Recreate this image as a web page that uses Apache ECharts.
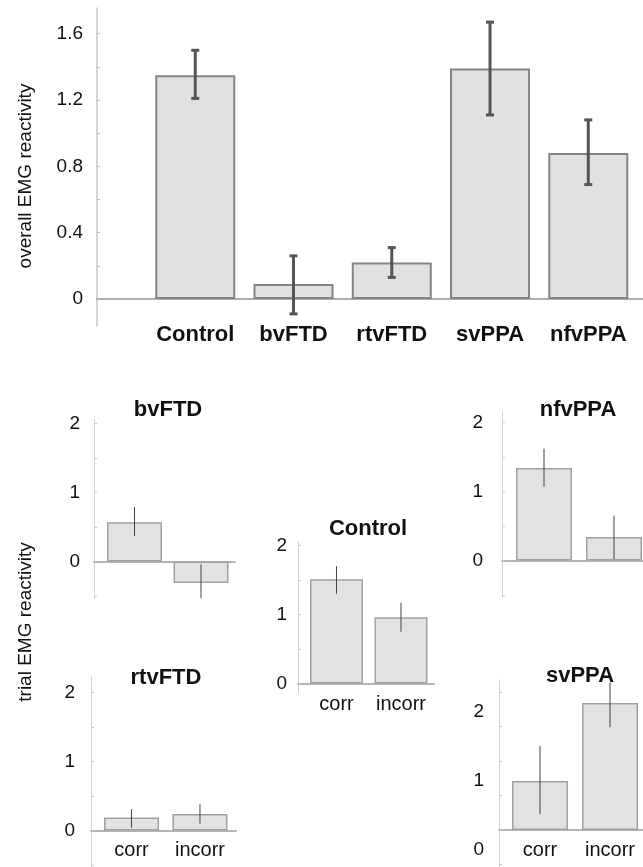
<!DOCTYPE html>
<html>
<head>
<meta charset="utf-8">
<script src="https://cdn.jsdelivr.net/npm/echarts@6/dist/echarts.min.js"></script>
<style>
html, body { margin: 0; padding: 0; background: #fff; }
#chart { width: 643px; height: 867px; }
</style>
</head>
<body>
<div id="chart"></div>
<script>
// overall EMG reactivity by group (mean, error bar low/high)
var groups = ['Control', 'bvFTD', 'rtvFTD', 'svPPA', 'nfvPPA']
var overallMean = [1.35, 0.09, 0.22, 1.39, 0.88]
var overallLow = [1.21, -0.09, 0.13, 1.11, 0.69]
var overallHigh = [1.50, 0.26, 0.31, 1.67, 1.08]
var overallTicks = ['0', '0.4', '0.8', '1.2', '1.6']

// trial EMG reactivity, correct vs incorrect trials
var conditions = ['corr', 'incorr']
var trialTicks = ['0', '1', '2']
var bvftdMean = [0.57, -0.31]
var bvftdLow = [0.37, -0.53]
var bvftdHigh = [0.79, -0.04]
var controlMean = [1.51, 0.96]
var controlLow = [1.30, 0.75]
var controlHigh = [1.70, 1.17]
var nfvppaMean = [1.34, 0.34]
var nfvppaLow = [1.07, 0.02]
var nfvppaHigh = [1.62, 0.65]
var rtvftdMean = [0.19, 0.24]
var rtvftdLow = [0.04, 0.10]
var rtvftdHigh = [0.31, 0.38]
var svppaMean = [0.71, 1.84]
var svppaLow = [0.23, 1.49]
var svppaHigh = [1.22, 2.14]

var font = 'Liberation Sans, Arial, sans-serif'
var textColor = '#111'

// layout of the small panels
var panels = [
    { name: 'bvFTD', mean: bvftdMean, low: bvftdLow, high: bvftdHigh,
      left: 94, top: 420, width: 141, height: 178,
      xMin: -0.609, xMax: 1.511, yMin: -0.529, yMax: 2.051,
      barWidth: 55, showCats: false, catMargin: 0, tickMargin: 14, tickShift: 0 },
    { name: 'Control', mean: controlMean, low: controlLow, high: controlHigh,
      left: 298, top: 542, width: 136, height: 151,
      xMin: -0.597, xMax: 1.512, yMin: -0.138, yMax: 2.051,
      barWidth: 53, showCats: true, catMargin: 1, tickMargin: 11, tickShift: 0 },
    { name: 'nfvPPA', mean: nfvppaMean, low: nfvppaLow, high: nfvppaHigh,
      left: 502, top: 412, width: 141, height: 185,
      xMin: -0.6, xMax: 1.414, yMin: -0.529, yMax: 2.152,
      barWidth: 56, showCats: false, catMargin: 0, tickMargin: 19, tickShift: 0 },
    { name: 'rtvFTD', mean: rtvftdMean, low: rtvftdLow, high: rtvftdHigh,
      left: 91, top: 677, width: 145, height: 190,
      xMin: -0.591, xMax: 1.526, yMin: -0.529, yMax: 2.225,
      barWidth: 55, showCats: true, catMargin: -27, tickMargin: 16, tickShift: 0 },
    { name: 'svPPA', mean: svppaMean, low: svppaLow, high: svppaHigh,
      left: 499, top: 680, width: 144, height: 187,
      xMin: -0.586, xMax: 1.471, yMin: -0.536, yMax: 2.174,
      barWidth: 56, showCats: true, catMargin: -27, tickMargin: 15, tickShift: 20 }
]

function errorBar(cap, width, color) {
    return function (params, api) {
        var x = api.value(0)
        var hi = api.coord([x, api.value(2)])
        var lo = api.coord([x, api.value(1)])
        var style = { stroke: color, lineWidth: width }
        var children = [{ type: 'line', shape: { x1: hi[0], y1: hi[1], x2: lo[0], y2: lo[1] }, style: style }]
        if (cap) {
            children.push({ type: 'line', shape: { x1: hi[0] - cap / 2, y1: hi[1], x2: hi[0] + cap / 2, y2: hi[1] }, style: style })
            children.push({ type: 'line', shape: { x1: lo[0] - cap / 2, y1: lo[1], x2: lo[0] + cap / 2, y2: lo[1] }, style: style })
        }
        return { type: 'group', children: children }
    }
}

function tickLabel(list) {
    return function (v) {
        var s = String(+(+v).toFixed(1))
        return list.indexOf(s) >= 0 ? s : ''
    }
}

var grid = [], xAxis = [], yAxis = [], series = []

// top chart
grid.push({ left: 97, top: 8, width: 546, height: 318, outerBoundsMode: 'none' })
xAxis.push({
    gridIndex: 0, type: 'value', min: 0, max: 5.557, minInterval: 1, maxInterval: 1,
    axisLine: { onZero: true, lineStyle: { color: '#adadad', width: 2 } },
    axisTick: { show: false }, splitLine: { show: false },
    axisLabel: {
        margin: -2, fontSize: 22, fontWeight: 'bold', fontFamily: font, color: textColor,
        showMinLabel: false, showMaxLabel: false,
        formatter: function (v) { return groups[Math.round(v) - 1] || '' }
    }
})
yAxis.push({
    gridIndex: 0, type: 'value', min: -0.163, max: 1.755, minInterval: 0.2, maxInterval: 0.2, splitNumber: 10,
    axisLine: { show: true, onZero: false, lineStyle: { color: '#c6c6c6', width: 1.5 } },
    axisTick: { show: true, inside: true, length: 3, lineStyle: { color: '#bcbcbc' } },
    splitLine: { show: false },
    axisLabel: {
        margin: 14, fontSize: 19, fontFamily: font, color: textColor,
        showMinLabel: false, showMaxLabel: false,
        formatter: tickLabel(overallTicks)
    }
})
series.push({
    type: 'bar', xAxisIndex: 0, yAxisIndex: 0, barWidth: 80, silent: true,
    data: overallMean.map(function (v, i) { return [i + 1, v] }),
    itemStyle: { color: '#e1e1e1', borderColor: '#858585', borderWidth: 2 }
})
series.push({
    type: 'custom', xAxisIndex: 0, yAxisIndex: 0, z: 5, silent: true,
    encode: { x: 0, y: [1, 2] },
    data: overallLow.map(function (v, i) { return [i + 1, v, overallHigh[i]] }),
    renderItem: errorBar(8, 3, '#555')
})

// small panels
panels.forEach(function (p, k) {
    var idx = k + 1
    grid.push({ left: p.left, top: p.top, width: p.width, height: p.height, outerBoundsMode: 'none' })
    xAxis.push({
        gridIndex: idx, type: 'value', min: p.xMin, max: p.xMax, minInterval: 1, maxInterval: 1,
        axisLine: { onZero: true, lineStyle: { color: '#b5b5b5', width: 2 } },
        axisTick: { show: false }, splitLine: { show: false },
        axisLabel: {
            show: p.showCats, margin: p.catMargin, fontSize: 20, fontFamily: font, color: textColor,
            showMinLabel: false, showMaxLabel: false,
            formatter: function (v) { return conditions[Math.round(v)] || '' }
        }
    })
    var tickLabelStyle = {
        margin: p.tickMargin, fontSize: 19, fontFamily: font, color: textColor,
        showMinLabel: false, showMaxLabel: false,
        formatter: tickLabel(trialTicks)
    }
    if (p.tickShift) {
        // labels of this panel sit a little below their ticks
        tickLabelStyle.verticalAlign = 'top'
        tickLabelStyle.lineHeight = p.tickShift * 2
    }
    yAxis.push({
        gridIndex: idx, type: 'value', min: p.yMin, max: p.yMax, minInterval: 0.5, maxInterval: 0.5, splitNumber: 5,
        axisLine: { show: true, onZero: false, lineStyle: { color: '#d2d2d2', width: 1 } },
        axisTick: { show: true, inside: true, length: 3, lineStyle: { color: '#c8c8c8' } },
        splitLine: { show: false },
        axisLabel: tickLabelStyle
    })
    series.push({
        type: 'bar', xAxisIndex: idx, yAxisIndex: idx, barWidth: p.barWidth, silent: true,
        data: p.mean.map(function (v, i) { return [i, v] }),
        itemStyle: { color: '#e2e2e2', borderColor: '#a2a2a2', borderWidth: 1.5 }
    })
    series.push({
        type: 'custom', xAxisIndex: idx, yAxisIndex: idx, z: 5, silent: true,
        encode: { x: 0, y: [1, 2] },
        data: p.low.map(function (v, i) { return [i, v, p.high[i]] }),
        renderItem: errorBar(0, 1, '#444')
    })
})

function label(text, x, y, size, weight, rotate) {
    return {
        type: 'text', x: x, y: y, rotation: rotate ? Math.PI / 2 : 0, z: 10,
        style: {
            text: text, fill: textColor,
            font: weight + ' ' + size + 'px ' + font,
            textAlign: 'center', textVerticalAlign: 'middle',
            align: 'center', verticalAlign: 'middle'
        }
    }
}

var graphic = [
    label('overall EMG reactivity', 26, 176, 19, 'normal', true),
    label('trial EMG reactivity', 26, 622, 19, 'normal', true),
    label('bvFTD', 168, 410, 22, 'bold'),
    label('Control', 368, 529, 22, 'bold'),
    label('nfvPPA', 578, 410, 22, 'bold'),
    label('rtvFTD', 166, 678, 22, 'bold'),
    label('svPPA', 580, 676, 22, 'bold')
]

var chart = echarts.init(document.getElementById('chart'), null, { renderer: 'canvas' })
chart.setOption({
    backgroundColor: '#fff',
    animation: false,
    grid: grid,
    xAxis: xAxis,
    yAxis: yAxis,
    series: series,
    graphic: graphic
})
</script>
</body>
</html>
